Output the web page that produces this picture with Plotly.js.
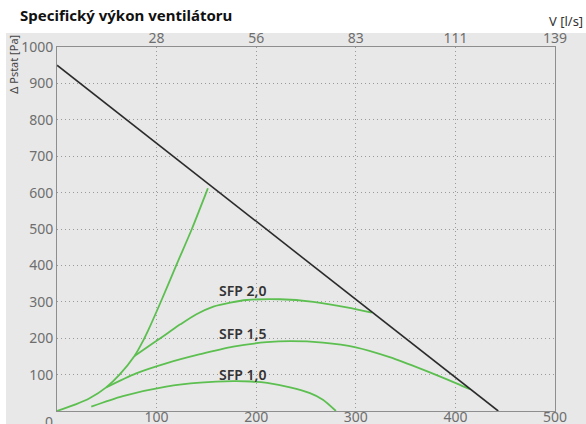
<!DOCTYPE html>
<html>
<head>
<meta charset="utf-8">
<script src="https://cdn.plot.ly/plotly-3.0.1.min.js"></script>
<style>html,body{margin:0;padding:0;background:#fff;}#chart{width:586px;height:424px;}</style>
</head>
<body>
<div id="chart"></div>
<script>
// ---- data (x in m3/h, y in Pa) ----
var fanX = [0, 443];
var fanY = [950, 0];

var systemX = [0, 19.4, 32.7, 49.4, 62.8, 77.8, 86.3, 91.3, 103.6, 119.7, 135.4, 149.8, 151.5];
var systemY = [0, 19, 35, 65, 100, 151, 192, 220, 296, 400, 500, 600, 612];

var sfp20X = [77.8, 96.3, 109.6, 123.8, 140, 157, 174, 190.6, 224, 257.4, 290.9, 316];
var sfp20Y = [151, 186, 211, 238, 266, 287, 298, 305, 307, 300, 285, 270];

var sfp15X = [49.4, 79.5, 109.6, 143.7, 177, 210.6, 234, 267, 300, 334, 368, 401, 414.5];
var sfp15Y = [65, 103.5, 131, 156, 177, 189, 192, 188, 175, 148, 113, 76, 60];

var sfp10X = [34.4, 66.2, 109.6, 143.7, 177, 195, 211, 234, 254, 267, 280];
var sfp10Y = [12, 41, 67, 78, 82, 81, 77, 65, 49, 31, 0];

var sfpLabels = ["SFP 2,0", "SFP 1,5", "SFP 1,0"];
var sfpLabelX = [186, 186, 186];
var sfpLabelY = [332, 214, 100];

var xTickVals = [100, 200, 300, 400, 500];
var xTickText = ["100", "200", "300", "400", "500"];
var x2TickText = ["28", "56", "83", "111", "139"];
var yTickVals = [100, 200, 300, 400, 500, 600, 700, 800, 900, 1000];
var yTickText = ["100", "200", "300", "400", "500", "600", "700", "800", "900", "1000"];

var titleText = "Specifický výkon ventilátoru";
var yTitle = "Δ Pstat [Pa]";
var x2Title = "V [l/s]";

// ---- styles ----
var green = "#5cbf50";
var FONT = "Noto Sans, DejaVu Sans, sans-serif";

function greenTrace(x, y) {
  return {x: x, y: y, mode: "lines", type: "scatter", hoverinfo: "skip",
          line: {color: green, width: 1.8, shape: "spline", smoothing: 0.8}, showlegend: false};
}

var traces = [
  greenTrace(systemX, systemY),
  greenTrace(sfp20X, sfp20Y),
  greenTrace(sfp15X, sfp15Y),
  greenTrace(sfp10X, sfp10Y),
  {x: fanX, y: fanY, mode: "lines", type: "scatter", line: {color: "#2b2b2b", width: 1.6}, showlegend: false, hoverinfo: "skip"},
  {x: fanX, y: fanY, xaxis: "x2", yaxis: "y", mode: "lines", type: "scatter", line: {width: 0}, opacity: 0, showlegend: false, hoverinfo: "skip"}
];

var annotations = [];
for (var i = 0; i < sfpLabels.length; i++) {
  annotations.push({x: sfpLabelX[i], y: sfpLabelY[i], xref: "x", yref: "y", text: sfpLabels[i],
    showarrow: false, font: {family: FONT, size: 14, color: "#333333", weight: 600}});
}
annotations.push({x: 0, y: 0, xref: "x", yref: "paper", text: "0", showarrow: false,
  xanchor: "center", yanchor: "top", xshift: -8, yshift: 1, font: {family: FONT, size: 14, color: "#6e6e6e"}});
annotations.push({x: -0.088, y: 1.0385, xref: "paper", yref: "paper", text: yTitle, textangle: -90,
  showarrow: false, xanchor: "center", yanchor: "top", font: {family: FONT, size: 11, color: "#444444"}});
annotations.push({x: 1.0602, y: 1.0467, xref: "paper", yref: "paper", text: x2Title, yshift: -2,
  showarrow: false, xanchor: "right", yanchor: "bottom", font: {family: FONT, size: 13, color: "#333333"}});

var axisLine = "#8e8e8e";
var gridCol = "#9a9a9a";
var gridDash = "1px,3px";

var layout = {
  width: 586, height: 424,
  margin: {l: 57, r: 31, t: 47, b: 13, pad: 0},
  paper_bgcolor: "#ffffff",
  plot_bgcolor: "#e8e8e8",
  showlegend: false,
  title: {text: titleText, xref: "container", yref: "container", x: 20 / 586, xanchor: "left",
          y: 1 - 10 / 424, yanchor: "top", font: {family: FONT, size: 15, color: "#111111", weight: "bold"}},
  xaxis: {range: [0, 500], tickmode: "array", tickvals: xTickVals, ticktext: xTickText,
          showgrid: true, gridcolor: gridCol, griddash: gridDash, gridwidth: 1, zeroline: false,
          showline: true, linecolor: axisLine, linewidth: 1, mirror: true, ticks: "", ticklabelstandoff: -7,
          tickfont: {family: FONT, size: 14, color: "#6e6e6e"}, fixedrange: true},
  xaxis2: {range: [0, 500], overlaying: "x", side: "top", tickmode: "array", tickvals: xTickVals, ticktext: x2TickText,
           showgrid: false, zeroline: false, showline: false, ticks: "",
           tickfont: {family: FONT, size: 14, color: "#6e6e6e"}, fixedrange: true},
  yaxis: {range: [0, 1000], tickmode: "array", tickvals: yTickVals, ticktext: yTickText,
          showgrid: true, gridcolor: gridCol, griddash: gridDash, gridwidth: 1, zeroline: false,
          showline: true, linecolor: axisLine, linewidth: 1, mirror: true, ticks: "",
          tickfont: {family: FONT, size: 14, color: "#6e6e6e"}, fixedrange: true},
  shapes: [{type: "rect", xref: "paper", yref: "paper", x0: -0.1024, x1: 1.07, y0: -0.06, y1: 1.0385,
            fillcolor: "#e8e8e8", line: {width: 0}, layer: "below"}],
  annotations: annotations
};

Plotly.newPlot("chart", traces, layout, {staticPlot: true, displayModeBar: false});
</script>
</body>
</html>
